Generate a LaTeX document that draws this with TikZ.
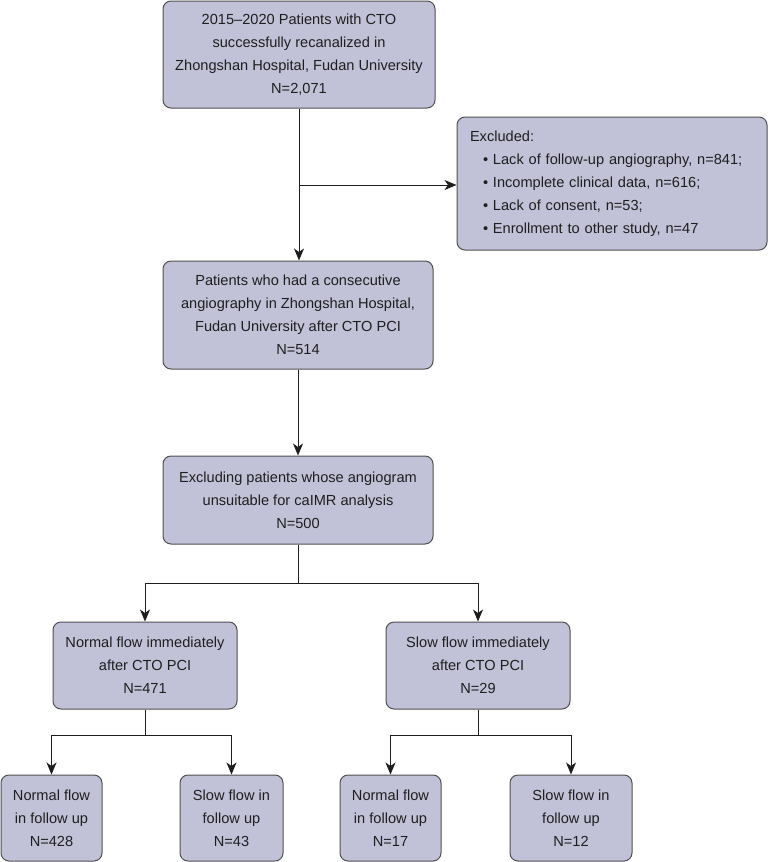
\documentclass[tikz,border=0pt]{standalone}
\usepackage{fontspec}
\setmainfont{Liberation Sans}
\usetikzlibrary{arrows.meta}
\definecolor{boxfill}{RGB}{193,193,216}
\definecolor{boxline}{RGB}{80,80,80}
\definecolor{conn}{RGB}{30,30,30}
\begin{document}
\begin{tikzpicture}[x=1pt,y=1pt,
  box/.style={draw=boxline, line width=1pt, fill=boxfill, rounded corners=8pt,
    rectangle, align=center, inner sep=0pt, text=black!88,
    font=\fontsize{14.6}{23}\selectfont},
  conn/.style={draw=conn, line width=1pt},
  arr/.style={conn, -{Stealth[length=12pt,width=10pt,inset=3.5pt]}}
]
\useasboundingbox (0,0) rectangle (769,-862);
\node[box, minimum width=272pt, minimum height=107pt] (top) at (299,-54.5)
  {2015–2020 Patients with CTO\\successfully recanalized in\\Zhongshan Hospital, Fudan University\\N=2,071};
\node[box, minimum width=310pt, minimum height=133pt, text width=284pt, align=left] (excl) at (612,-183.5)
  {Excluded:\\
   \hspace*{13pt}\textbullet\ Lack of follow-up angiography, n=841;\\
   \hspace*{13pt}\textbullet\ Incomplete clinical data, n=616;\\
   \hspace*{13pt}\textbullet\ Lack of consent, n=53;\\
   \hspace*{13pt}\textbullet\ Enrollment to other study, n=47};
\node[box, minimum width=270pt, minimum height=108pt] (b2) at (298,-315)
  {Patients who had a consecutive\\angiography in Zhongshan Hospital,\\Fudan University after CTO PCI\\N=514};
\node[box, minimum width=270pt, minimum height=88pt] (b3) at (298,-500)
  {Excluding patients whose angiogram\\unsuitable for caIMR analysis\\N=500};
\node[box, minimum width=184pt, minimum height=87pt] (normal) at (145,-665.5)
  {Normal flow immediately\\after CTO PCI\\N=471};
\node[box, minimum width=184pt, minimum height=87pt] (slow) at (478,-665.5)
  {Slow flow immediately\\after CTO PCI\\N=29};
\node[box, minimum width=101pt, minimum height=86pt] (f1) at (51.5,-818)
  {Normal flow\\in follow up\\N=428};
\node[box, minimum width=103pt, minimum height=86pt] (f2) at (231.5,-818)
  {Slow flow in\\follow up\\N=43};
\node[box, minimum width=101pt, minimum height=86pt] (f3) at (390.5,-818)
  {Normal flow\\in follow up\\N=17};
\node[box, minimum width=122pt, minimum height=86pt] (f4) at (571,-818)
  {Slow flow in\\follow up\\N=12};
% connectors
\coordinate (s0) at (299,-185);
\coordinate (s1) at (298,-583);
\coordinate (s2) at (145,-735);
\coordinate (s3) at (478,-735);
\draw[arr] (top.south) -- (b2.north -| top.south);
\draw[arr] (s0) -- (excl.west |- s0);
\draw[arr] (b2.south) -- (b3.north);
\draw[conn] (b3.south) -- (s1);
\draw[arr] (s1) -| (normal.north);
\draw[arr] (s1) -| (slow.north);
\draw[conn] (normal.south) -- (s2);
\draw[arr] (s2) -| (f1.north);
\draw[arr] (s2) -| (f2.north);
\draw[conn] (slow.south) -- (s3);
\draw[arr] (s3) -| (f3.north);
\draw[arr] (s3) -| (f4.north);
\end{tikzpicture}
\end{document}
